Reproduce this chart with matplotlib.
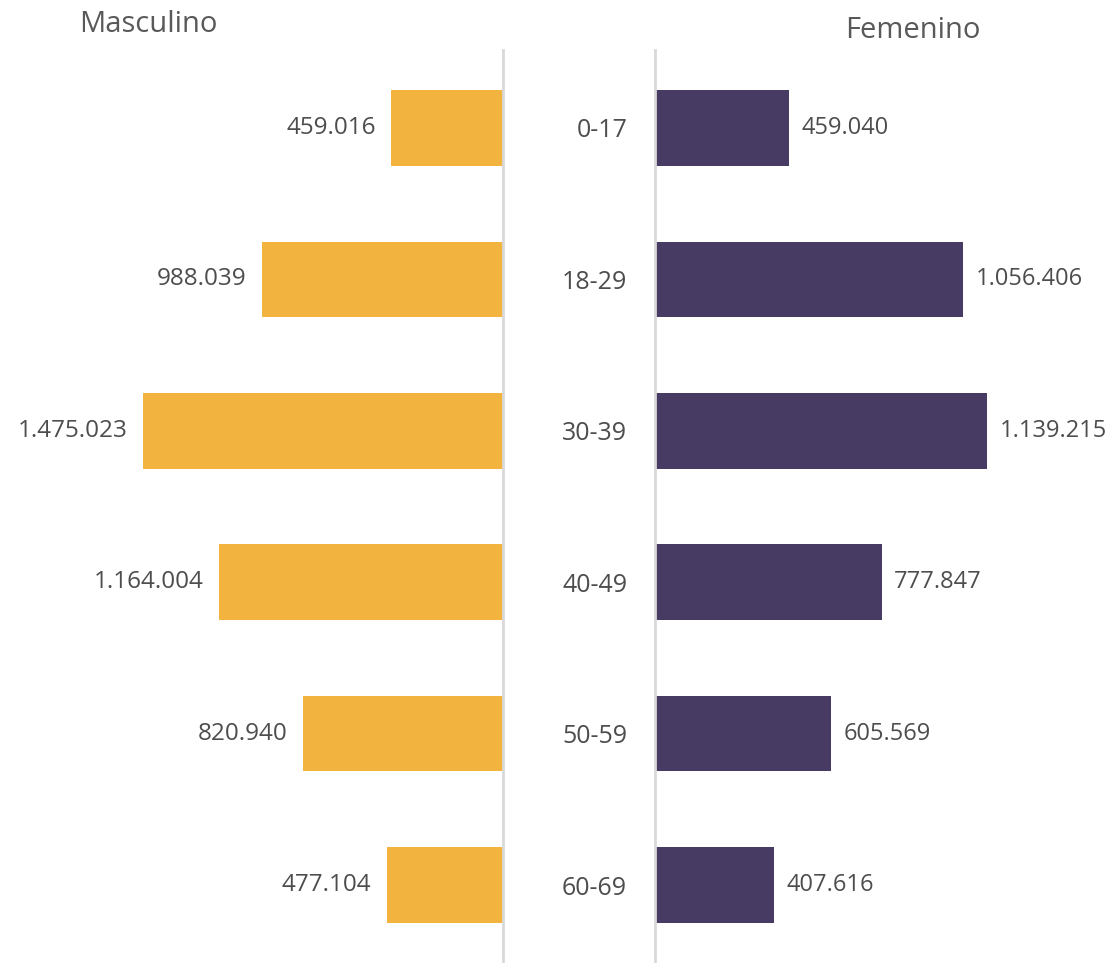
import matplotlib
matplotlib.use("Agg")
import matplotlib.pyplot as plt

plt.rcParams['font.family'] = ['Open Sans', 'DejaVu Sans']

# data
edades = ["0-17", "18-29", "30-39", "40-49", "50-59", "60-69"]
masculino = [459016, 988039, 1475023, 1164004, 820940, 477104]
femenino = [459040, 1056406, 1139215, 777847, 605569, 407616]
etiq_masc = ["459.016", "988.039", "1.475.023", "1.164.004", "820.940", "477.104"]
etiq_fem = ["459.040", "1.056.406", "1.139.215", "777.847", "605.569", "407.616"]

naranja = "#F2B33F"
morado = "#473B63"
gris_txt = "#4d4d4d"
gris_eje = "#d9d9d9"

W, H = 1112, 963
fig = plt.figure(figsize=(W / 100, H / 100), dpi=100)

y_top, y_bot = 50, 963
ax_l = fig.add_axes([0, 1 - y_bot / H, 503 / W, (y_bot - y_top) / H])
ax_r = fig.add_axes([655 / W, 1 - y_bot / H, (W - 655) / W, (y_bot - y_top) / H])

pos = list(range(len(edades)))

# left side (masculino)
ax_l.barh(pos, masculino, height=0.5, color=naranja, zorder=2)
ax_l.set_xlim(503 / (360 / 1475023), 0)
for p, v, t in zip(pos, masculino, etiq_masc):
    ax_l.annotate(t, (v, p), xytext=(-11, 0), textcoords="offset points",
                  ha="right", va="center", fontsize=17.5, color=gris_txt)

# right side (femenino)
ax_r.barh(pos, femenino, height=0.5, color=morado, zorder=2)
ax_r.set_xlim(0, (W - 655) / (332 / 1139215))
for p, v, t in zip(pos, femenino, etiq_fem):
    ax_r.annotate(t, (v, p), xytext=(9, 0), textcoords="offset points",
                  ha="left", va="center", fontsize=17, color=gris_txt)

for ax in (ax_l, ax_r):
    ax.set_ylim(5.515, -0.515)
    ax.set_xticks([])
    for s in ax.spines.values():
        s.set_visible(False)

ax_l.set_yticks([])
ax_l.spines["right"].set_visible(True)
ax_l.spines["right"].set_color(gris_eje)
ax_l.spines["right"].set_linewidth(2)

ax_r.set_yticks(pos)
ax_r.set_yticklabels(edades, fontsize=18, color=gris_txt)
ax_r.tick_params(axis="y", length=0, pad=20)
ax_r.spines["left"].set_visible(True)
ax_r.spines["left"].set_color(gris_eje)
ax_r.spines["left"].set_linewidth(2)

fig.text(148 / W, 1 - 24 / H, "Masculino", ha="center", va="center",
         fontsize=21, color="#595959")
fig.text(913 / W, 1 - 30 / H, "Femenino", ha="center", va="center",
         fontsize=21, color="#595959")

fig.savefig("out.png", dpi=100)
